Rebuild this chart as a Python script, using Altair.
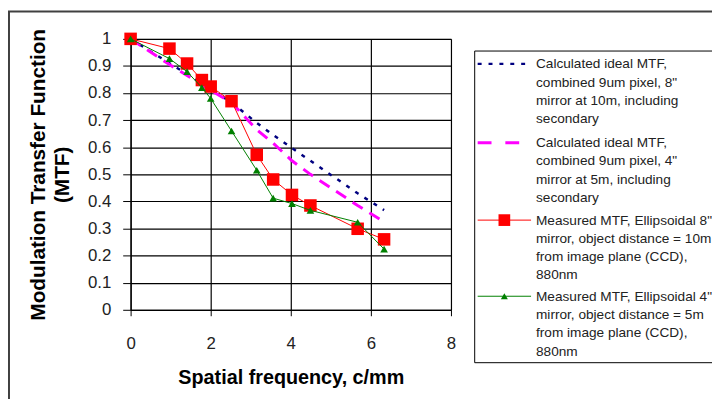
import altair as alt
import pandas as pd

# ---- data ----
freq = [0, 0.97, 1.41, 1.78, 2.0, 2.52, 3.15, 3.56, 4.03, 4.49, 5.67, 6.33]
calc_8in = [1.0, 0.91, 0.87, 0.835, 0.815, 0.765, 0.69, 0.645, 0.597, 0.55, 0.43, 0.368]
calc_4in = [1.0, 0.905, 0.865, 0.83, 0.81, 0.765, 0.665, 0.615, 0.55, 0.50, 0.385, 0.325]
meas_8in = [1.0, 0.964, 0.909, 0.848, 0.824, 0.77, 0.572, 0.481, 0.424, 0.385, 0.299, 0.26]
meas_4in = [1.0, 0.927, 0.879, 0.82, 0.78, 0.66, 0.515, 0.412, 0.392, 0.367, 0.323, 0.224]

x_ticks = [0, 2, 4, 6, 8]
y_ticks = [0, 0.1, 0.2, 0.3, 0.4, 0.5, 0.6, 0.7, 0.8, 0.9, 1.0]

legend_texts = [
    "Calculated  ideal MTF,\ncombined 9um pixel, 8\"\nmirror at 10m, including\nsecondary",
    "Calculated  ideal MTF,\ncombined 9um pixel, 4\"\nmirror at 5m, including\nsecondary",
    "Measured MTF, Ellipsoidal 8\"\nmirror, object distance = 10m\nfrom image plane (CCD),\n880nm",
    "Measured MTF, Ellipsoidal 4\"\nmirror, object distance = 5m\nfrom image plane (CCD),\n880nm",
]

FONT = "Liberation Sans"
W, H = 324, 274

xs = alt.Scale(domain=[0, 8], nice=False, zero=False)
ys = alt.Scale(domain=[0, 1], nice=False)

xaxis = alt.Axis(values=x_ticks, title="Spatial frequency, c/mm", grid=True,
                 gridColor="black", gridOpacity=1, gridWidth=1.2,
                 domainColor="black", domainWidth=1.2, tickColor="black", tickSize=6,
                 labelFont=FONT, labelFontSize=17, labelColor="#222",
                 labelPadding=20, labelFlush=False,
                 titleFont=FONT, titleFontSize=20, titleFontWeight="bold",
                 titleColor="black", titlePadding=17)
yaxis = alt.Axis(values=y_ticks, format=".1~f",
                 title=["Modulation Transfer Function", "(MTF)"], grid=True,
                 gridColor="black", gridOpacity=1, gridWidth=1.2,
                 domainColor="black", domainWidth=1.2, tickColor="black", tickSize=8,
                 labelFont=FONT, labelFontSize=17, labelColor="#222",
                 labelPadding=12, labelFlush=False,
                 titleFont=FONT, titleFontSize=21, titleFontWeight="bold",
                 titleColor="black", titleLineHeight=24, titlePadding=15)


def series_df(vals):
    return pd.DataFrame({"x": freq, "y": vals})


def enc(chart):
    return chart.encode(
        x=alt.X("x:Q", scale=xs, axis=xaxis),
        y=alt.Y("y:Q", scale=ys, axis=yaxis),
    )


one = pd.DataFrame({"d": [0]})

# outer chart border
border = alt.Chart(one).mark_rect(fill=None, stroke="#404040", strokeWidth=2).encode(
    x=alt.value(-123), x2=alt.value(700), y=alt.value(-27.7), y2=alt.value(600))

blue = enc(alt.Chart(series_df(calc_8in)).mark_line(
    color="#000080", strokeWidth=2.5, strokeDash=[4, 7]))
magenta = enc(alt.Chart(series_df(calc_4in)).mark_line(
    color="#FF00FF", strokeWidth=3, strokeDash=[12, 8]))
red_line = enc(alt.Chart(series_df(meas_8in)).mark_line(color="#FF0000", strokeWidth=1))
red_pts = enc(alt.Chart(series_df(meas_8in)).mark_point(
    shape="square", filled=True, size=160, color="#FF0000", opacity=1))
green_line = enc(alt.Chart(series_df(meas_4in)).mark_line(color="#008000", strokeWidth=1))
green_pts = enc(alt.Chart(series_df(meas_4in)).mark_point(
    shape="triangle-up", filled=True, size=60, color="#008000", opacity=1))

# legend (drawn manually, in pixel space to the right of the plot)
leg_box = alt.Chart(one).mark_rect(fill="white", stroke="black", strokeWidth=1).encode(
    x=alt.value(348), x2=alt.value(640), y=alt.value(12.3), y2=alt.value(327.5))
sym_y = [25.3, 105.0, 183.3, 260.3]
leg_styles = [
    dict(color="#000080", strokeWidth=2.5, strokeDash=[4, 7]),
    dict(color="#FF00FF", strokeWidth=3, strokeDash=[14, 14]),
    dict(color="#FF0000", strokeWidth=1),
    dict(color="#008000", strokeWidth=1),
]
leg_layers = [leg_box]
for i, st in enumerate(leg_styles):
    leg_layers.append(alt.Chart(one).mark_rule(**st).encode(
        x=alt.value(351), x2=alt.value(405), y=alt.value(sym_y[i])))
leg_layers.append(alt.Chart(one).mark_point(
    shape="square", filled=True, size=140, color="#FF0000", opacity=1).encode(
    x=alt.value(378), y=alt.value(sym_y[2])))
leg_layers.append(alt.Chart(one).mark_point(
    shape="triangle-up", filled=True, size=50, color="#008000", opacity=1).encode(
    x=alt.value(378), y=alt.value(sym_y[3])))
for i, t in enumerate(legend_texts):
    leg_layers.append(alt.Chart(one).mark_text(
        text=t, lineBreak="\n", lineHeight=18.5, align="left", baseline="top",
        font=FONT, fontSize=13.8, color="#222").encode(
        x=alt.value(410), y=alt.value(sym_y[i] - 6.5)))

chart = alt.layer(
    border, blue, magenta, red_line, red_pts, green_line, green_pts, *leg_layers
).properties(
    width=W, height=H,
    padding={"left": 124, "top": 29, "right": 264, "bottom": 88},
    autosize=alt.AutoSizeParams(type="none"),
).configure_view(strokeWidth=0).configure(background="white")

chart.save("out.html", embed_options={"renderer": "svg", "actions": False})
